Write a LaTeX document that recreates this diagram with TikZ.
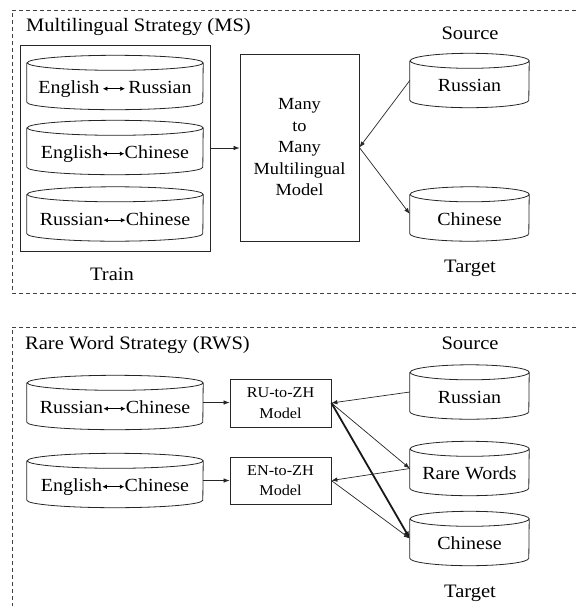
\documentclass[tikz,border=0pt]{standalone}
\usepackage{fontspec}
\setmainfont[FakeStretch=1.08]{Liberation Serif}
\usetikzlibrary{arrows.meta}
\newcommand\biarr{\tikz[baseline={(0pt,-4.8pt)}]\draw[line width=0.7pt,{Latex[length=4.5pt,width=4.5pt]}-{Latex[length=4.5pt,width=4.5pt]}] (0pt,0pt) -- (22pt,0pt);}
\newcommand\cylout[2]{\draw[boxline] ([yshift=-7.5pt]#1.north west) -- ([yshift=7.5pt]#1.south west) arc[start angle=180,end angle=360,x radius=#2,y radius=7.5pt] -- ([yshift=-7.5pt]#1.north east) arc[start angle=0,end angle=360,x radius=#2,y radius=7.5pt];}
\begin{document}
\begin{tikzpicture}[x=1pt,y=-1pt,
  boxline/.style={draw=black!85,line width=0.8pt},
  dashbox/.style={draw=black!75,line width=0.7pt,dash pattern=on 4pt off 3pt},
  cyl/.style={minimum height=54pt,text height=22pt,text depth=0pt,inner sep=0pt,font=\fontsize{18.5}{22}\selectfont},
  lcyl/.style={cyl,minimum width=176pt},
  rcyl/.style={cyl,minimum width=119pt},
  lbl/.style={inner sep=0pt,font=\fontsize{19}{22}\selectfont},
  modelbox/.style={boxline,inner sep=0pt,align=center,font=\fontsize{17}{21.5}\selectfont},
  smallbox/.style={modelbox,minimum width=101pt,font=\fontsize{15}{20.5}\selectfont},
  conn/.style={draw=black!85,line width=0.7pt,-{Latex[length=6pt,width=4.5pt]}},
  thickconn/.style={draw=black!90,line width=1.8pt,-{Latex[length=7pt,width=5.5pt]}}
]
\useasboundingbox (0,0) rectangle (576,606);
% ---------- top section ----------
\draw[dashbox] (590,10) -- (12,10) -- (12,293) -- (590,293);
\node[lbl,anchor=west] (mstitle) at (26,27) {Multilingual Strategy (MS)};
\node[boxline,minimum width=190pt,minimum height=206pt,inner sep=0pt] (train) at (115,148) {};
\node[lcyl] (er) at (115,82.5) {English\,\biarr\,Russian};
\node[lcyl] (ec) at (115,147.5) {English\biarr Chinese};
\node[lcyl] (rc) at (115,214) {Russian\biarr Chinese};
\cylout{er}{88pt}
\cylout{ec}{88pt}
\cylout{rc}{88pt}
\node[lbl] (trainlbl) at (112,274) {Train};
\node[modelbox,minimum width=119pt,minimum height=187pt] (model) at (299.5,147.5) {Many\\to\\Many\\Multilingual\\Model};
\node[lbl] (src1) at (470,33) {Source};
\node[rcyl] (ru1) at (469.5,80.5) {Russian};
\node[rcyl] (zh1) at (469.5,214) {Chinese};
\cylout{ru1}{59.5pt}
\cylout{zh1}{59.5pt}
\node[lbl] (tgt1) at (470,268) {Target};
\draw[conn] (train.east) -- (train.east -| model.west);
\draw[conn] (ru1.west) -- (model.east);
\draw[conn] (model.east) -- (zh1.west);
% ---------- bottom section ----------
\draw[dashbox] (590,327) -- (12,327) -- (12,620);
\node[lbl,anchor=west] (rwstitle) at (25,345) {Rare Word Strategy (RWS)};
\node[lcyl] (rzc) at (115,402.5) {Russian\biarr Chinese};
\node[lcyl] (ezc) at (115,480.5) {English\biarr Chinese};
\cylout{rzc}{88pt}
\cylout{ezc}{88pt}
\node[smallbox,minimum height=48pt] (rubox) at (280.5,403) {RU-to-ZH\\Model};
\node[smallbox,minimum height=47pt] (enbox) at (280.5,480.5) {EN-to-ZH\\Model};
\node[lbl] (src2) at (470,343) {Source};
\node[rcyl] (ru2) at (469.5,392) {Russian};
\node[rcyl] (rare) at (469.5,468.5) {Rare Words};
\node[rcyl] (zh2) at (469.5,538.5) {Chinese};
\cylout{ru2}{59.5pt}
\cylout{rare}{59.5pt}
\cylout{zh2}{59.5pt}
\node[lbl] (tgt2) at (470,593) {Target};
\draw[conn] (rzc.east) -- (rzc.east -| rubox.west);
\draw[conn] (ezc.east) -- (ezc.east -| enbox.west);
\draw[conn] (ru2.west) -- (rubox.east);
\draw[conn] (rubox.east) -- (rare.west);
\draw[thickconn] (rubox.east) -- (zh2.west);
\draw[conn] (rare.west) -- (enbox.east);
\draw[conn] (enbox.east) -- (zh2.west);
\end{tikzpicture}
\end{document}
